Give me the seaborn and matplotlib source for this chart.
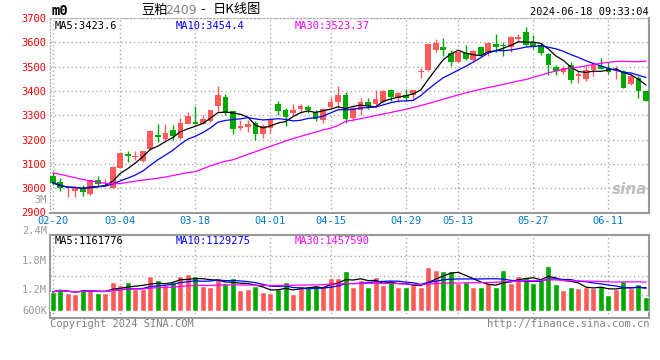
import numpy as np
import pandas as pd
import matplotlib
matplotlib.use("Agg")
import matplotlib.pyplot as plt
import seaborn as sns

# ---- data ----
open_ = [3049, 3026, 2987, 2990, 3000, 2977, 3033, 3016, 3001, 3084,
         3139, 3128, 3112, 3160, 3219, 3201, 3240, 3205, 3264, 3274,
         3266, 3275, 3337, 3375, 3316, 3249, 3253, 3268, 3221, 3248,
         3348, 3323, 3310, 3327, 3333, 3315, 3282, 3333, 3353, 3382,
         3288, 3323, 3353, 3346, 3353, 3403, 3369, 3382, 3382, 3476,
         3485, 3569, 3580, 3558, 3519, 3554, 3526, 3582, 3555, 3593,
         3590, 3582, 3612, 3642, 3601, 3589, 3553, 3499, 3477, 3508,
         3461, 3451, 3488, 3504, 3495, 3484, 3481, 3427, 3454, 3400]
high = [3068, 3042, 3008, 3003, 3014, 3034, 3052, 3038, 3090, 3148,
        3153, 3153, 3155, 3241, 3264, 3264, 3260, 3290, 3315, 3340,
        3303, 3323, 3419, 3389, 3319, 3282, 3282, 3275, 3262, 3289,
        3358, 3330, 3348, 3347, 3344, 3321, 3330, 3375, 3422, 3395,
        3336, 3369, 3369, 3403, 3403, 3409, 3396, 3407, 3403, 3495,
        3596, 3612, 3616, 3569, 3565, 3589, 3569, 3585, 3600, 3636,
        3603, 3626, 3634, 3661, 3630, 3599, 3558, 3508, 3504, 3518,
        3481, 3501, 3518, 3535, 3518, 3501, 3488, 3464, 3461, 3400]
low = [3014, 2990, 2963, 2962, 2966, 2974, 3011, 3012, 3000, 3082,
       3109, 3114, 3109, 3156, 3192, 3192, 3199, 3203, 3264, 3262,
       3266, 3274, 3319, 3303, 3221, 3241, 3230, 3197, 3207, 3225,
       3303, 3255, 3303, 3310, 3310, 3275, 3268, 3330, 3330, 3270,
       3278, 3301, 3326, 3332, 3350, 3359, 3353, 3358, 3366, 3454,
       3482, 3562, 3545, 3501, 3518, 3526, 3523, 3542, 3545, 3562,
       3545, 3562, 3603, 3582, 3572, 3549, 3464, 3464, 3468, 3434,
       3434, 3440, 3461, 3490, 3468, 3450, 3414, 3423, 3369, 3359]
close = [3022, 3001, 2989, 3001, 2984, 3034, 3018, 3019, 3088, 3145,
         3133, 3132, 3151, 3237, 3211, 3227, 3216, 3270, 3297, 3264,
         3285, 3323, 3385, 3310, 3245, 3257, 3262, 3221, 3255, 3285,
         3316, 3293, 3323, 3336, 3321, 3285, 3327, 3356, 3385, 3285,
         3328, 3355, 3337, 3366, 3400, 3377, 3390, 3369, 3403, 3481,
         3593, 3596, 3569, 3519, 3561, 3531, 3565, 3549, 3598, 3582,
         3585, 3623, 3623, 3589, 3585, 3558, 3508, 3481, 3496, 3447,
         3468, 3488, 3508, 3492, 3477, 3488, 3414, 3461, 3400, 3359]
ma30 = [3062, 3057, 3050, 3043, 3036, 3030, 3025, 3020, 3018, 3019,
        3024, 3029, 3033, 3037, 3041, 3046, 3052, 3058, 3064, 3068,
        3080, 3092, 3102, 3111, 3117, 3128, 3139, 3150, 3161, 3172,
        3183, 3194, 3204, 3213, 3222, 3230, 3240, 3247, 3258, 3275,
        3280, 3286, 3292, 3299, 3305, 3311, 3318, 3324, 3332, 3340,
        3348, 3357, 3366, 3375, 3384, 3392, 3400, 3407, 3414, 3420,
        3427, 3434, 3441, 3447, 3456, 3465, 3474, 3482, 3489, 3494,
        3498, 3503, 3509, 3514, 3518, 3521, 3522, 3521, 3520, 3523]
# volume in millions of lots
volume = [0.98, 1.13, 0.92, 0.89, 1.13, 1.13, 0.92, 0.92, 1.49, 1.33,
          1.49, 1.13, 1.13, 1.80, 1.59, 1.32, 1.49, 1.80, 1.90, 1.80,
          1.28, 1.23, 1.69, 1.44, 1.69, 1.08, 1.13, 1.28, 0.98, 0.92,
          1.13, 1.49, 0.87, 1.28, 1.18, 1.33, 1.28, 1.69, 1.69, 2.05,
          1.23, 1.59, 1.23, 1.74, 1.33, 1.49, 1.23, 1.23, 1.33, 1.23,
          2.26, 2.10, 2.05, 2.05, 1.44, 1.49, 1.23, 1.23, 1.44, 1.23,
          2.10, 1.44, 1.80, 1.74, 1.44, 1.59, 2.31, 1.39, 1.08, 1.23,
          1.18, 1.23, 1.18, 1.28, 0.82, 1.13, 1.54, 1.18, 1.39, 0.72]
date_ticks = [0, 9, 19, 29, 37, 47, 54, 64, 74]
date_labels = ['02-20', '03-04', '03-18', '04-01', '04-15', '04-29', '05-13', '05-27', '06-11']
price_ticks = [2900, 3000, 3100, 3200, 3300, 3400, 3500, 3600, 3700]

RED = '#ff5a5a'
GREEN = '#00a800'
GRID = '#aaaaaa'
BORDER = '#999999'

sns.set_style('white')
plt.rcParams['font.family'] = ['DejaVu Sans Mono', 'Noto Sans CJK SC']

df = pd.DataFrame({'open': open_, 'high': high, 'low': low, 'close': close,
                   'ma30': ma30, 'vol': volume})
df['i'] = np.arange(len(df))
df['ma5'] = df['close'].rolling(5, min_periods=1).mean()
df['ma10'] = df['close'].rolling(10, min_periods=1).mean()
df['vma5'] = df['vol'].rolling(5, min_periods=1).mean()
df['vma10'] = df['vol'].rolling(10, min_periods=1).mean()
df['vma30'] = df['vol'].rolling(30, min_periods=1).mean()
df['dir'] = np.where(df['close'] >= df['open'], 'up', 'down')
cols = np.where(df['dir'] == 'up', RED, GREEN)

W, H = 660, 360
fig = plt.figure(figsize=(6.6, 3.6), dpi=100)


def box(l, t, r, b):
    return [l / W, 1 - b / H, (r - l) / W, (b - t) / H]


ax = fig.add_axes(box(50, 18, 649, 212.5))
axv = fig.add_axes(box(50, 234.7, 649, 318))

# ---- price panel ----
ax.vlines(df['i'], df['low'], df['high'], colors=cols, linewidth=1, zorder=3)
body = np.maximum((df['close'] - df['open']).abs(), 3)
ax.bar(df['i'], body, bottom=np.minimum(df['open'], df['close']), width=0.76,
       color=cols, linewidth=0, zorder=3)
sns.lineplot(data=df, x='i', y='ma5', color='black', lw=0.9, ax=ax, zorder=4)
sns.lineplot(data=df, x='i', y='ma10', color='#0000ff', lw=0.9, ax=ax, zorder=4)
sns.lineplot(data=df, x='i', y='ma30', color='#ff00ff', lw=0.9, ax=ax, zorder=4)

ax.set_xlim(-0.36, 79.4)
ax.set_ylim(2900, 3700)
ax.set_xticks(date_ticks)
ax.set_xticklabels(date_labels, color='#0078c8', fontsize=7.5)
ax.set_yticks(price_ticks)
ax.set_yticklabels([str(p) for p in price_ticks], color='red', fontsize=7.5)
ax.tick_params(length=0, pad=2.5)
ax.set_xlabel('')
ax.set_ylabel('')
ax.grid(True, linestyle=(0, (1, 2)), color=GRID, lw=1)
for side in ['left', 'top']:
    ax.spines[side].set_color(GRID)
    ax.spines[side].set_linestyle((0, (1, 2)))
for side in ['right', 'bottom']:
    ax.spines[side].set_color(BORDER)
    ax.spines[side].set_linewidth(1.5)

ax.text(0.008, 0.985, 'MA5:3423.6', transform=ax.transAxes, color='black',
        fontsize=7.5, va='top')
ax.text(0.209, 0.985, 'MA10:3454.4', transform=ax.transAxes, color='#0000ff',
        fontsize=7.5, va='top')
ax.text(0.408, 0.985, 'MA30:3523.37', transform=ax.transAxes, color='#ff00ff',
        fontsize=7.5, va='top')
ax.text(0.997, 0.12, 'sina', transform=ax.transAxes, color='#b0b0b0', fontsize=11,
        fontweight='bold', style='italic', ha='right', va='center',
        family='DejaVu Sans', alpha=0.8)

# ---- volume panel ----
sns.barplot(data=df, x='i', y='vol', hue='dir', palette={'up': RED, 'down': GREEN},
            dodge=False, width=0.8, saturation=1, legend=False, ax=axv, zorder=3)
sns.lineplot(x=df['i'], y=df['vma5'], color='black', lw=0.9, ax=axv, zorder=4)
sns.lineplot(x=df['i'], y=df['vma10'], color='#0000ff', lw=0.9, ax=axv, zorder=4)
sns.lineplot(x=df['i'], y=df['vma30'], color='#ff00ff', lw=0.9, ax=axv, zorder=4)
axv.set_xlim(-0.36, 79.4)
axv.set_ylim(-0.36, 3.91)
axv.set_xticks(date_ticks)
axv.set_xticklabels([])
axv.set_yticks([0.84, 1.81, 2.80])
axv.set_yticklabels([])
axv.tick_params(length=0)
axv.set_xlabel('')
axv.set_ylabel('')
axv.grid(True, linestyle=(0, (1, 2)), color=GRID, lw=1)
for side in axv.spines:
    axv.spines[side].set_color(BORDER)
    axv.spines[side].set_linewidth(1.5)

axv.text(0.008, 0.985, 'MA5:1161776', transform=axv.transAxes, color='black',
         fontsize=7.5, va='top')
axv.text(0.209, 0.985, 'MA10:1129275', transform=axv.transAxes, color='#0000ff',
         fontsize=7.5, va='top')
axv.text(0.408, 0.985, 'MA30:1457590', transform=axv.transAxes, color='#ff00ff',
         fontsize=7.5, va='top')

# ---- labels around the panels ----
def px(x, y):
    return x / W, 1 - y / H

for lab, y in [('3M', 200), ('2.4M', 230.7), ('1.8M', 260.7), ('1.2M', 290), ('600K', 310.7)]:
    fig.text(*px(47, y), lab, color='#999999', fontsize=7.5, ha='right', va='center')

cjk = ['Noto Sans CJK SC', 'DejaVu Sans']
fig.text(*px(51, 11), 'm0', color='black', fontsize=10, fontweight='bold', va='center')
fig.text(*px(141, 10), '豆粕', color='black', fontsize=9.5, va='center', family=cjk)
fig.text(*px(165, 10), '2409', color='#808080', fontsize=9, va='center',
         family='DejaVu Sans')
fig.text(*px(200, 10), '-', color='black', fontsize=9.5, va='center', family=cjk)
fig.text(*px(213, 10), '日K线图', color='black', fontsize=9.5, va='center', family=cjk)
fig.text(*px(649, 12), '2024-06-18 09:33:04', color='black', fontsize=7.5,
         ha='right', va='center')
fig.text(*px(50, 324), 'Copyright 2024 SINA.COM', color='#808080', fontsize=7.5,
         va='center')
fig.text(*px(649, 324), 'http://finance.sina.com.cn', color='#808080', fontsize=7.5,
         ha='right', va='center')

fig.savefig('out.png', dpi=100, facecolor='white')
